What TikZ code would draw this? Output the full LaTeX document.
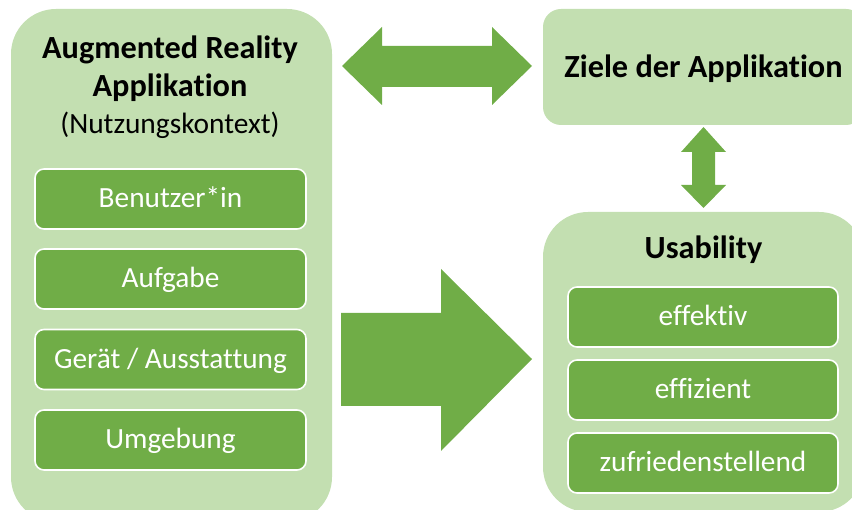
\documentclass[tikz,border=0pt]{standalone}
\usepackage{fontspec}
\setmainfont{Carlito}[Ligatures=NoCommon]
\definecolor{dgreen}{HTML}{70AD47}
\definecolor{lgreen}{HTML}{C3DFB1}
\tikzset{
  bigbox/.style={fill=lgreen, draw=none, rounded corners=45pt, inner sep=0pt},
  topbox/.style={fill=lgreen, draw=none, rounded corners=18pt, inner sep=0pt},
  itembox/.style={fill=dgreen, draw=white, line width=1.6pt, rounded corners=9pt, inner sep=0pt, minimum height=60pt},
  itemtext/.style={text=white, font=\fontsize{29.3}{32}\selectfont, anchor=base, inner sep=0pt},
  titletext/.style={text=black, font=\bfseries\fontsize{32.3}{35}\selectfont, anchor=base, inner sep=0pt},
  subtext/.style={text=black, font=\fontsize{29.4}{32}\selectfont, anchor=base, inner sep=0pt},
  blockarrow/.style={fill=dgreen, draw=none}
}
\begin{document}
\begin{tikzpicture}[x=1pt,y=-1pt]
\useasboundingbox (0,0) rectangle (852,510);
\clip (0,0) rectangle (852,510);
% big boxes
\node[bigbox, minimum width=321pt, minimum height=513pt] (ar) at (171.5,265.5) {};
\node[topbox, minimum width=321pt, minimum height=116pt] (ziele) at (703.5,67) {};
\node[bigbox, minimum width=321pt, minimum height=300pt] (usab) at (703.5,362) {};
% titles
\node[titletext] (t1) at (170,59) {Augmented Reality};
\node[titletext] (t2) at (170,97) {Applikation};
\node[subtext] (t3) at (170,134) {(Nutzungskontext)};
\node[titletext] (tz) at (703.5,78) {Ziele der Applikation};
\node[titletext] (tu) at (703.5,259) {Usability};
% left items
\node[itembox, minimum width=271pt] (b1) at (170.5,199) {};
\node[itembox, minimum width=271pt] (b2) at (170.5,279) {};
\node[itembox, minimum width=271pt] (b3) at (170.5,359.5) {};
\node[itembox, minimum width=271pt] (b4) at (170.5,440) {};
\node[itemtext] at ([yshift=-9pt]b1.center) {Benutzer*in};
\node[itemtext] at ([yshift=-9pt]b2.center) {Aufgabe};
\node[itemtext] at ([yshift=-9pt]b3.center) {Gerät / Ausstattung};
\node[itemtext] at ([yshift=-9pt]b4.center) {Umgebung};
% right items
\node[itembox, minimum width=270pt] (u1) at (703,317) {};
\node[itembox, minimum width=270pt] (u2) at (703,390) {};
\node[itembox, minimum width=270pt] (u3) at (703,463) {};
\node[itemtext] at ([yshift=-9pt]u1.center) {effektiv};
\node[itemtext] at ([yshift=-9pt]u2.center) {effizient};
\node[itemtext] at ([yshift=-9pt]u3.center) {zufriedenstellend};
% horizontal double arrow
\fill[blockarrow] (342,66) -- (382,27) -- (382,46) -- (492,46) -- (492,27) -- (532,66)
  -- (492,105) -- (492,87) -- (382,87) -- (382,105) -- cycle;
% vertical double arrow
\fill[blockarrow] (703.5,127) -- (726,152) -- (715,152) -- (715,185) -- (726,185) -- (703.5,208)
  -- (681,185) -- (692,185) -- (692,152) -- (681,152) -- cycle;
% big right arrow
\fill[blockarrow] (341,313) -- (441,313) -- (441,269) -- (532,359) -- (441,451) -- (441,406) -- (341,406) -- cycle;
\end{tikzpicture}
\end{document}
